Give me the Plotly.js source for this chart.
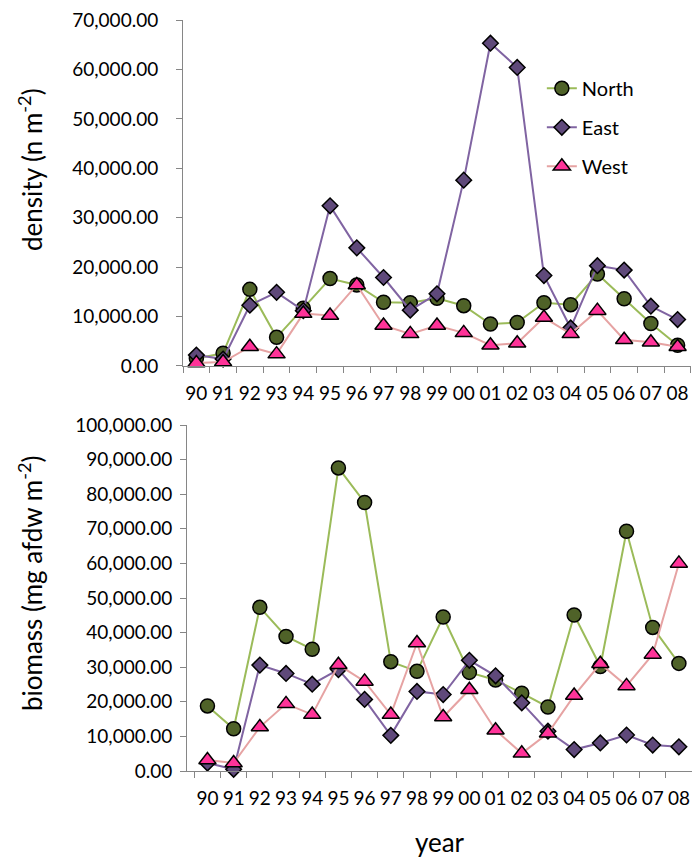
<!DOCTYPE html>
<html>
<head>
<meta charset="utf-8">
<script src="https://cdn.plot.ly/plotly-3.0.1.min.js"></script>
<style>html,body{margin:0;padding:0;background:#fff;}#chart{width:693px;height:863px;}</style>
</head>
<body>
<div id="chart"></div>
<script>
const years = ['90','91','92','93','94','95','96','97','98','99','00','01','02','03','04','05','06','07','08'];
const seriesNames = ['North','East','West'];

// density (n m-2)
const densityNorth = [1500, 2600, 15500, 5800, 11700, 17700, 16400, 12900, 12800, 13700, 12200, 8500, 8800, 12800, 12400, 18600, 13600, 8600, 4200];
const densityEast  = [2200, 1400, 12300, 14900, 11200, 32400, 23900, 17900, 11300, 14600, 37600, 65300, 60400, 18300, 7700, 20300, 19400, 12100, 9400];
const densityWest  = [600, 800, 3900, 2400, 10600, 10200, 16400, 8200, 6500, 8200, 6700, 4200, 4600, 9800, 6500, 11200, 5300, 4800, 3900];

// biomass (mg afdw m-2)
const biomassNorth = [18800, 12200, 47300, 38900, 35200, 87600, 77600, 31600, 28800, 44500, 28500, 26300, 22500, 18500, 45100, 30200, 69300, 41500, 31100];
const biomassEast  = [2300, 500, 30600, 28200, 25100, 29300, 20700, 10300, 23000, 22100, 32000, 27500, 19700, 11500, 6200, 8100, 10400, 7500, 7000];
const biomassWest  = [3200, 2300, 12700, 19400, 16300, 30700, 25900, 16300, 37000, 15600, 23500, 11800, 5100, 10900, 21800, 31000, 24600, 33700, 60000];

const FONT = 'Lato, "Open Sans", sans-serif';
const styles = {
  North: {line: '#9BBB59', fill: '#4F6228', symbol: 'circle', size: 14},
  East:  {line: '#8064A2', fill: '#5F497A', symbol: 'diamond', size: 12},
  West:  {line: '#E6A3A3', fill: '#FF3399', symbol: 'triangle-up', size: 15}
};

function mk(name, y, xa, ya, showlegend) {
  const s = styles[name];
  return {
    type: 'scatter', mode: 'lines+markers', name: name,
    x: years, y: y, xaxis: xa, yaxis: ya,
    showlegend: showlegend, legendgroup: name,
    line: {color: s.line, width: 2},
    marker: {symbol: s.symbol, size: s.size, color: s.fill, line: {color: '#000', width: 1.5}},
    cliponaxis: false
  };
}

const data = [
  mk('North', densityNorth, 'x', 'y', true),
  mk('East', densityEast, 'x', 'y', true),
  mk('West', densityWest, 'x', 'y', true),
  mk('North', biomassNorth, 'x2', 'y2', false),
  mk('East', biomassEast, 'x2', 'y2', false),
  mk('West', biomassWest, 'x2', 'y2', false)
];

const axisCommon = {
  showgrid: false, zeroline: false, showline: true, linecolor: '#868686', linewidth: 1,
  ticks: 'outside', tickcolor: '#868686', ticklen: 6
};

const titleFont = {family: FONT, size: 26, color: '#000'};

const layout = {
  width: 693, height: 863,
  margin: {l: 183, r: 1, t: 20, b: 92},
  paper_bgcolor: '#fff', plot_bgcolor: '#fff',
  font: {family: FONT, color: '#000'},
  showlegend: true,
  legend: {
    x: 0.705, xanchor: 'left', y: 0.935, yanchor: 'top',
    font: {family: FONT, size: 20, color: '#000'},
    bgcolor: 'rgba(0,0,0,0)', tracegroupgap: 10, traceorder: 'grouped'
  },
  xaxis: Object.assign({}, axisCommon, {
    type: 'category', domain: [0, 0.998], range: [-0.5, 18.5], anchor: 'y',
    tickson: 'boundaries', ticklabelstandoff: 10, tickangle: 0,
    tickfont: {family: FONT, size: 19, color: '#000'}
  }),
  yaxis: Object.assign({}, axisCommon, {
    domain: [0.5393, 1], range: [0, 70000], dtick: 10000, tickformat: ',.2f', anchor: 'x',
    ticklabelstandoff: 14,
    tickfont: {family: FONT, size: 19, color: '#000'}
  }),
  xaxis2: Object.assign({}, axisCommon, {
    type: 'category', domain: [0.0079, 1], range: [-0.78, 18.5], anchor: 'y2',
    tickson: 'boundaries', ticklabelstandoff: 10, tickangle: 0,
    tickfont: {family: FONT, size: 19, color: '#000'},
    title: {text: 'year', font: titleFont, standoff: 26}
  }),
  yaxis2: Object.assign({}, axisCommon, {
    domain: [0, 0.4607], range: [0, 100000], dtick: 10000, tickformat: ',.2f', anchor: 'x2',
    ticklabelstandoff: 4,
    tickfont: {family: FONT, size: 19, color: '#000'}
  }),
  annotations: [
    {text: 'density (n m<sup>-2</sup>)', xref: 'paper', yref: 'paper', x: -0.2986, y: 0.8003,
     xanchor: 'center', yanchor: 'middle', textangle: -90, showarrow: false, font: titleFont},
    {text: 'biomass (mg afdw m<sup>-2</sup>)', xref: 'paper', yref: 'paper', x: -0.3006, y: 0.2503,
     xanchor: 'center', yanchor: 'middle', textangle: -90, showarrow: false, font: titleFont}
  ]
};

Plotly.newPlot('chart', data, layout, {displayModeBar: false, staticPlot: true});
</script>
</body>
</html>
